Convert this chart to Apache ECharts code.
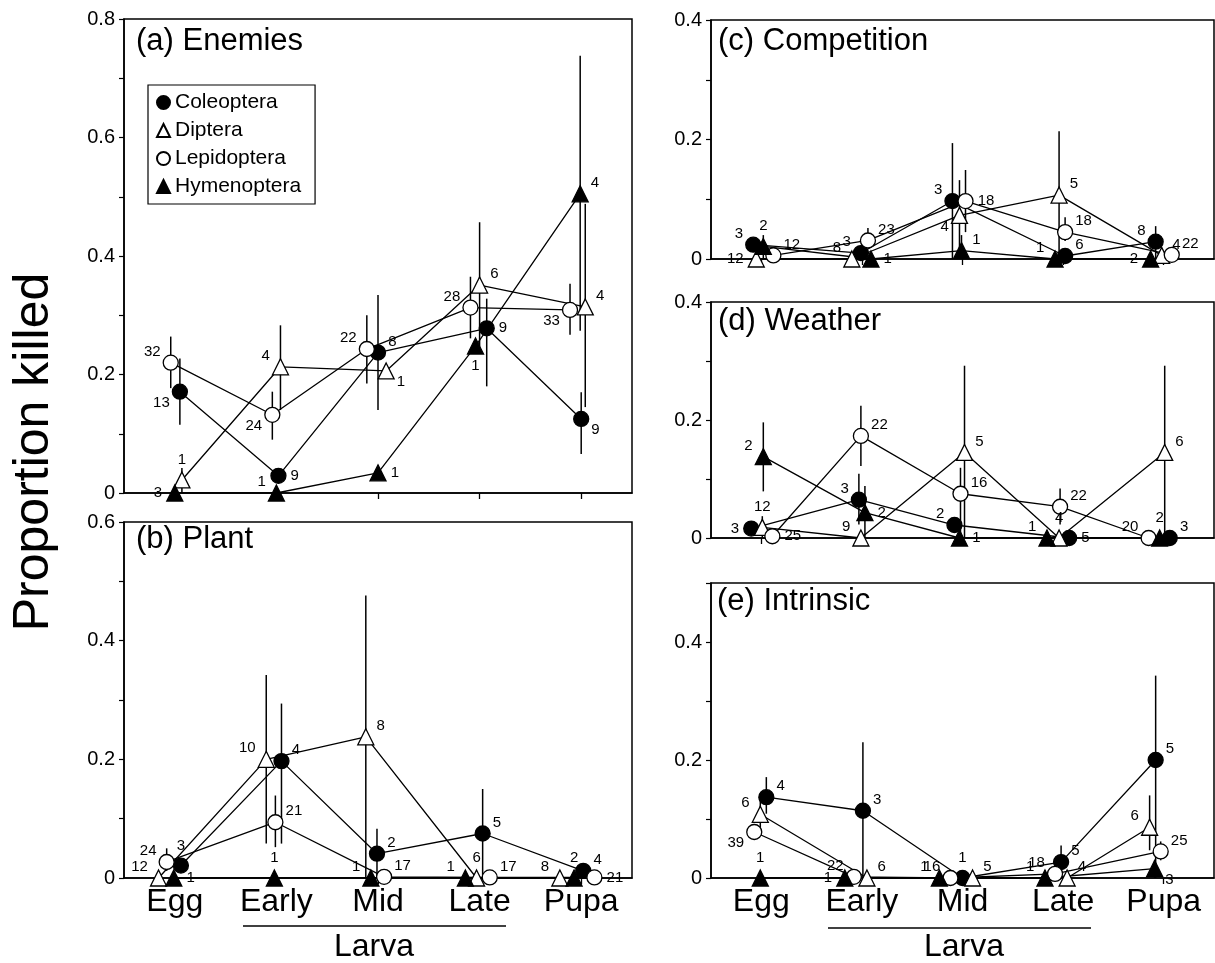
<!DOCTYPE html>
<html>
<head>
<meta charset="utf-8">
<title>Proportion killed by stage</title>
<script src="https://cdn.jsdelivr.net/npm/echarts@6/dist/echarts.min.js"></script>
<style>
  html, body { margin: 0; background: #fff; }
  #chart { width: 1215px; height: 963px; }
</style>
</head>
<body>
<div id="chart"></div>
<script>
const stages = ['Egg', 'Early', 'Mid', 'Late', 'Pupa'];
const taxa = ['Coleoptera', 'Diptera', 'Lepidoptera', 'Hymenoptera'];

// rows = taxa (Coleoptera, Diptera, Lepidoptera, Hymenoptera), cols = stages
// x: stage position incl. the small sideways jitter of the original
const enemiesX = [[1.05, 2.02, 3.0, 4.07, 5.0], [1.07, 2.04, 3.08, 4.0, 5.04], [0.96, 1.96, 2.89, 3.91, 4.89], [1.0, 2.0, 3.0, 3.96, 4.99]];
const enemiesY = [[0.171, 0.029, 0.237, 0.278, 0.125], [0.022, 0.213, 0.206, 0.351, 0.314], [0.22, 0.132, 0.243, 0.313, 0.309], [0, 0, 0.034, 0.248, 0.505]];
const enemiesN = [[13, 9, 8, 9, 9], [1, 4, 1, 6, 4], [32, 24, 22, 28, 33], [3, 1, 1, 1, 4]];
const enemiesLo = [[0.115, null, 0.14, 0.18, 0.066], [0, 0.14, null, 0.247, 0.145], [0.177, 0.09, 0.185, 0.261, 0.267], [null, null, null, null, 0.274]];
const enemiesHi = [[0.227, null, 0.334, 0.328, 0.17], [0.042, 0.283, null, 0.457, 0.488], [0.264, 0.171, 0.3, 0.365, 0.353], [null, null, null, null, 0.738]];
const enemiesAt = [['bl', 'r', 'tr', 'r', 'br'], ['t', 'tl', 'br', 'tr', 'tr'], ['tl', 'bl', 'tl', 'tl', 'bl'], ['l', 'tl', 'r', 'b', 'tr']];

const plantX = [[1.06, 2.05, 2.99, 4.03, 5.02], [0.84, 1.9, 2.88, 3.97, 4.79], [0.92, 1.99, 3.06, 4.1, 5.13], [0.99, 1.98, 2.93, 3.86, 4.93]];
const plantY = [[0.021, 0.197, 0.041, 0.075, 0.012], [0, 0.2, 0.238, 0, 0], [0.027, 0.094, 0.002, 0.001, 0.001], [0, 0, 0, 0, 0]];
const plantN = [[3, 4, 2, 5, 4], [12, 10, 8, 6, 8], [24, 21, 17, 17, 21], [1, 1, 1, 1, 2]];
const plantLo = [[null, 0.058, 0, 0, null], [null, 0.058, 0, null, null], [0.012, 0.052, null, null, null], [null, null, null, null, null]];
const plantHi = [[null, 0.294, 0.083, 0.15, null], [null, 0.342, 0.476, null, null], [0.05, 0.139, null, null, null], [null, null, null, null, null]];
const plantAt = [['t', 'tr', 'tr', 'tr', 'tr'], ['tl', 'tl', 'tr', 't', 'tl'], ['tl', 'tr', 'tr', 'tr', 'r'], ['r', 't', 'tl', 'tl', 't']];

const competitionX = [[0.92, 1.99, 2.9, 4.02, 4.92], [0.95, 1.9, 2.97, 3.96, 4.98], [1.12, 2.06, 3.03, 4.02, 5.08], [1.02, 2.09, 2.99, 3.92, 4.87]];
const competitionY = [[0.024, 0.01, 0.097, 0.005, 0.029], [0, 0, 0.073, 0.107, 0.006], [0.006, 0.031, 0.097, 0.045, 0.007], [0.021, 0, 0.014, 0, 0]];
const competitionN = [[3, 3, 3, 6, 8], [12, 8, 4, 5, 4], [12, 23, 18, 18, 22], [2, 1, 1, 1, 2]];
const competitionLo = [[null, null, 0, null, 0], [null, null, 0, 0, null], [null, 0.031, 0.045, 0.03, null], [0, null, 0, null, null]];
const competitionHi = [[null, null, 0.194, null, 0.055], [null, null, 0.132, 0.214, null], [null, 0.052, 0.149, 0.07, null], [0.04, null, 0.04, null, null]];
const competitionAt = [['tl', 'tl', 'tl', 'tr', 'tl'], ['l', 'tl', 'bl', 'tr', 'tr'], ['tr', 'tr', 'r', 'tr', 'tr'], ['t', 'r', 'tr', 'tl', 'l']];

const weatherX = [[0.9, 1.97, 2.92, 4.06, 5.06], [1.01, 1.99, 3.02, 3.96, 5.01], [1.11, 1.99, 2.98, 3.97, 4.85], [1.02, 2.03, 2.97, 3.84, 4.96]];
const weatherY = [[0.016, 0.065, 0.022, 0, 0], [0.018, 0, 0.145, 0, 0.145], [0.003, 0.173, 0.075, 0.053, 0], [0.138, 0.043, 0, 0, 0]];
const weatherN = [[3, 3, 2, 5, 3], [12, 9, 5, 4, 6], [25, 22, 16, 22, 20], [2, 2, 1, 1, 2]];
const weatherLo = [[null, 0.023, null, null, null], [0, null, 0, null, 0], [null, 0.122, 0, 0.023, null], [0.079, 0, null, null, null]];
const weatherHi = [[null, 0.109, null, null, null], [0.037, null, 0.292, null, 0.292], [null, 0.224, 0.119, 0.084, null], [0.196, 0.088, null, null, null]];
const weatherAt = [['l', 'tl', 'tl', 'r', 'tr'], ['t', 'tl', 'tr', 't', 'tr'], ['r', 'tr', 'tr', 'tr', 'tl'], ['tl', 'r', 'r', 'tl', 't']];

const intrinsicX = [[1.05, 2.01, 3.0, 3.98, 4.92], [0.99, 2.05, 3.1, 4.04, 4.86], [0.93, 1.92, 2.88, 3.92, 4.97], [0.99, 1.83, 2.77, 3.82, 4.91]];
const intrinsicY = [[0.137, 0.114, 0, 0.027, 0.2], [0.108, 0, 0, 0, 0.086], [0.078, 0.002, 0, 0.007, 0.045], [0, 0, 0, 0, 0.016]];
const intrinsicN = [[4, 3, 1, 5, 5], [6, 6, 5, 4, 6], [39, 22, 16, 18, 25], [1, 1, 1, 1, 3]];
const intrinsicLo = [[0.109, 0, null, 0.003, 0], [0.08, null, null, null, 0.047], [0.065, null, null, null, 0.03], [null, null, null, null, 0]];
const intrinsicHi = [[0.171, 0.23, null, 0.055, 0.343], [0.135, null, null, null, 0.14], [0.09, null, null, null, 0.062], [null, null, null, null, 0.03]];
const intrinsicAt = [['tr', 'tr', 't', 'tr', 'tr'], ['tl', 'tr', 'tr', 'tr', 'tl'], ['bl', 'tl', 'tl', 'tl', 'tr'], ['t', 'l', 'tl', 'tl', 'br']];

const FONT = '"Liberation Sans", Arial, Helvetica, sans-serif';

const symbolOf = { Coleoptera: 'circle', Diptera: 'triangle', Lepidoptera: 'circle', Hymenoptera: 'triangle' };
const fillOf = { Coleoptera: '#000', Diptera: '#fff', Lepidoptera: '#fff', Hymenoptera: '#000' };
const sizeOf = { Coleoptera: 15, Diptera: 16, Lepidoptera: 15, Hymenoptera: 16 };

const labelPlace = {
  l: { position: 'left', offset: [0, 0] },
  r: { position: 'right', offset: [0, 0] },
  t: { position: 'top', offset: [0, 0] },
  b: { position: 'bottom', offset: [0, 0] },
  tl: { position: 'left', offset: [2, -11] },
  tr: { position: 'right', offset: [-2, -11] },
  bl: { position: 'left', offset: [2, 11] },
  br: { position: 'right', offset: [-2, 11] }
};

const panels = [
  { title: '(a) Enemies', X: enemiesX, Y: enemiesY, N: enemiesN, lo: enemiesLo, hi: enemiesHi, at: enemiesAt,
    max: 0.8, grid: { left: 124, top: 19, width: 508, height: 474 }, titleAt: [136, 26], showStages: false },
  { title: '(b) Plant', X: plantX, Y: plantY, N: plantN, lo: plantLo, hi: plantHi, at: plantAt,
    max: 0.6, grid: { left: 124, top: 522, width: 508, height: 356 }, titleAt: [136, 524], showStages: true },
  { title: '(c) Competition', X: competitionX, Y: competitionY, N: competitionN, lo: competitionLo, hi: competitionHi, at: competitionAt,
    max: 0.4, grid: { left: 711, top: 20, width: 503, height: 239 }, titleAt: [718, 26], showStages: false },
  { title: '(d) Weather', X: weatherX, Y: weatherY, N: weatherN, lo: weatherLo, hi: weatherHi, at: weatherAt,
    max: 0.4, grid: { left: 711, top: 302, width: 503, height: 236 }, titleAt: [718, 306], showStages: false },
  { title: '(e) Intrinsic', X: intrinsicX, Y: intrinsicY, N: intrinsicN, lo: intrinsicLo, hi: intrinsicHi, at: intrinsicAt,
    max: 0.5, grid: { left: 711, top: 583, width: 503, height: 295 }, titleAt: [717, 586], showStages: true }
];

function steps(max, step) {
  const out = [];
  for (let v = 0; v <= max + 1e-9; v += step) out.push(Math.round(v * 10) / 10);
  return out;
}

const grids = [];
const xAxes = [];
const yAxes = [];
const titles = [];
const series = [];

panels.forEach((p, i) => {
  grids.push({ ...p.grid, show: true, borderColor: '#000', borderWidth: 1.5, backgroundColor: 'transparent' });

  xAxes.push({
    type: 'value', gridIndex: i, min: 0.5, max: 5.5,
    axisLine: { show: true, onZero: false, lineStyle: { color: '#000', width: 1.5 } },
    axisTick: { show: true, customValues: [1, 2, 3, 4, 5], length: 6, lineStyle: { color: '#000', width: 1.3 } },
    axisLabel: {
      show: p.showStages, customValues: [1, 2, 3, 4, 5], margin: 8,
      formatter: (v) => stages[Math.round(v) - 1], fontSize: 32, color: '#000', fontFamily: FONT
    },
    splitLine: { show: false }
  });

  yAxes.push({
    type: 'value', gridIndex: i, min: 0, max: p.max,
    axisLine: { show: true, lineStyle: { color: '#000', width: 1.5 } },
    axisTick: { show: true, customValues: steps(p.max, 0.1), length: 5, lineStyle: { color: '#000', width: 1.2 } },
    axisLabel: {
      customValues: steps(p.max, 0.2), margin: 9,
      formatter: (v) => (v === 0 ? '0' : v.toFixed(1)), fontSize: 20, color: '#000', fontFamily: FONT
    },
    splitLine: { show: false }
  });

  titles.push({
    text: p.title, left: p.titleAt[0], top: p.titleAt[1], padding: 0,
    textStyle: { fontSize: 31, fontWeight: 'normal', color: '#000', fontFamily: FONT }
  });

  // error bars for every taxon of this panel
  const bars = [];
  taxa.forEach((t, k) => {
    p.X[k].forEach((x, s) => {
      if (p.lo[k][s] != null && p.hi[k][s] != null) bars.push([x, p.lo[k][s], p.hi[k][s]]);
    });
  });
  series.push({
    type: 'custom', xAxisIndex: i, yAxisIndex: i, z: 1, silent: true,
    encode: { x: 0, y: [1, 2] },
    data: bars,
    renderItem: (params, api) => {
      const a = api.coord([api.value(0), api.value(1)]);
      const b = api.coord([api.value(0), api.value(2)]);
      return {
        type: 'line',
        shape: { x1: a[0], y1: a[1], x2: b[0], y2: b[1] },
        style: { stroke: '#000', lineWidth: 1.5 }
      };
    }
  });

  taxa.forEach((t, k) => {
    series.push({
      type: 'line', name: t, xAxisIndex: i, yAxisIndex: i, z: 3,
      symbol: symbolOf[t], symbolSize: sizeOf[t],
      itemStyle: { color: fillOf[t], borderColor: '#000', borderWidth: 1.3 },
      lineStyle: { color: '#000', width: 1.3 },
      label: { show: true, fontSize: 15, color: '#000', fontFamily: FONT, distance: 4 },
      emphasis: { disabled: true },
      data: p.X[k].map((x, s) => ({
        value: [x, p.Y[k][s]],
        label: { formatter: String(p.N[k][s]), ...labelPlace[p.at[k][s]] }
      }))
    });
  });
});

const chart = echarts.init(document.getElementById('chart'));
chart.setOption({
  backgroundColor: '#fff',
  animation: false,
  title: titles,
  grid: grids,
  xAxis: xAxes,
  yAxis: yAxes,
  legend: {
    left: 148, top: 85, orient: 'vertical', selectedMode: false,
    borderColor: '#000', borderWidth: 1.2, padding: [7, 14, 7, 8], itemGap: 7,
    itemWidth: 13, itemHeight: 13,
    textStyle: { fontSize: 21, color: '#000', fontFamily: FONT },
    data: taxa.map((t) => ({ name: t, icon: symbolOf[t] }))
  },
  graphic: [
    { type: 'text', x: 34, y: 452, rotation: Math.PI / 2,
      style: { text: 'Proportion killed', font: '50px ' + FONT, fill: '#000', align: 'center', verticalAlign: 'middle' } },
    { type: 'line', shape: { x1: 243, y1: 926, x2: 506, y2: 926 }, style: { stroke: '#000', lineWidth: 1.3 } },
    { type: 'text', x: 374, y: 947, style: { text: 'Larva', font: '32px ' + FONT, fill: '#000', align: 'center', verticalAlign: 'middle' } },
    { type: 'line', shape: { x1: 828, y1: 928, x2: 1091, y2: 928 }, style: { stroke: '#000', lineWidth: 1.3 } },
    { type: 'text', x: 964, y: 947, style: { text: 'Larva', font: '32px ' + FONT, fill: '#000', align: 'center', verticalAlign: 'middle' } }
  ],
  series
});
</script>
</body>
</html>
